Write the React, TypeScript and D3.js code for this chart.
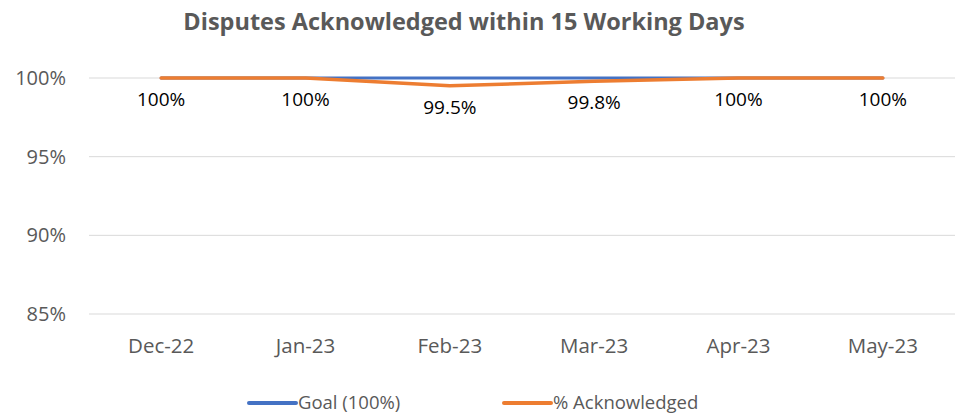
import { useEffect, useRef } from 'react'
import * as d3 from 'd3'

const months = ['Dec-22', 'Jan-23', 'Feb-23', 'Mar-23', 'Apr-23', 'May-23']
const goal = [100, 100, 100, 100, 100, 100]
const acknowledged = [100, 100, 99.5, 99.8, 100, 100]
const ackLabels = ['100%', '100%', '99.5%', '99.8%', '100%', '100%']
const yTicks = [85, 90, 95, 100]

const W = 964
const H = 416
const FONT = '"Open Sans", sans-serif'

export default function App() {
  const svgRef = useRef<SVGSVGElement | null>(null)

  useEffect(() => {
    const margin = { top: 78, right: 9, bottom: 102, left: 89 }
    const innerWidth = W - margin.left - margin.right
    const innerHeight = H - margin.top - margin.bottom

    const svg = d3.select(svgRef.current)
    svg.selectAll('*').remove()
    svg.attr('viewBox', `0 0 ${W} ${H}`)

    // title
    svg
      .append('text')
      .attr('x', 464)
      .attr('y', 30)
      .attr('text-anchor', 'middle')
      .attr('font-family', FONT)
      .attr('font-size', 23.5)
      .attr('font-weight', 700)
      .attr('fill', '#595959')
      .text('Disputes Acknowledged within 15 Working Days')

    const g = svg.append('g').attr('transform', `translate(${margin.left},${margin.top})`)

    const x = d3.scaleBand().domain(months).range([0, innerWidth])
    const y = d3.scaleLinear().domain([85, 100]).range([innerHeight, 0])
    const cx = (m: string) => (x(m) as number) + x.bandwidth() / 2

    // grid
    g.selectAll('.grid')
      .data(yTicks)
      .join('line')
      .attr('class', 'grid')
      .attr('x1', 0)
      .attr('x2', innerWidth)
      .attr('y1', (d) => y(d))
      .attr('y2', (d) => y(d))
      .attr('stroke', '#d9d9d9')
      .attr('stroke-width', 1)

    // y labels
    g.selectAll('.ylab')
      .data(yTicks)
      .join('text')
      .attr('class', 'ylab')
      .attr('x', -23)
      .attr('y', (d) => y(d))
      .attr('dy', '0.35em')
      .attr('text-anchor', 'end')
      .attr('font-family', FONT)
      .attr('font-size', 20)
      .attr('fill', '#595959')
      .text((d) => `${d}%`)

    // x labels
    g.selectAll('.xlab')
      .data(months)
      .join('text')
      .attr('class', 'xlab')
      .attr('x', (d) => cx(d))
      .attr('y', innerHeight + 39)
      .attr('text-anchor', 'middle')
      .attr('font-family', FONT)
      .attr('font-size', 20.5)
      .attr('fill', '#595959')
      .text((d) => d)

    const line = d3
      .line<number>()
      .x((_, i) => cx(months[i]))
      .y((d) => y(d))

    g.append('path')
      .datum(goal)
      .attr('fill', 'none')
      .attr('stroke', '#4472C4')
      .attr('stroke-width', 3)
      .attr('stroke-linecap', 'round')
      .attr('d', line)

    g.append('path')
      .datum(acknowledged)
      .attr('fill', 'none')
      .attr('stroke', '#ED7D31')
      .attr('stroke-width', 3.5)
      .attr('stroke-linecap', 'round')
      .attr('stroke-linejoin', 'round')
      .attr('d', line)

    // data labels
    g.selectAll('.dlab')
      .data(acknowledged)
      .join('text')
      .attr('class', 'dlab')
      .attr('x', (_, i) => cx(months[i]))
      .attr('y', (d) => y(d) + 28)
      .attr('text-anchor', 'middle')
      .attr('font-family', FONT)
      .attr('font-size', 19)
      .attr('fill', '#000')
      .text((_, i) => ackLabels[i])

    // legend
    const legend = [
      { name: 'Goal (100%)', color: '#4472C4', x: 249 },
      { name: '% Acknowledged', color: '#ED7D31', x: 504 },
    ]
    const lg = svg.selectAll('.leg').data(legend).join('g').attr('class', 'leg')
    lg.append('line')
      .attr('x1', (d) => d.x)
      .attr('x2', (d) => d.x + 47)
      .attr('y1', 403)
      .attr('y2', 403)
      .attr('stroke', (d) => d.color)
      .attr('stroke-width', 4)
      .attr('stroke-linecap', 'round')
    lg.append('text')
      .attr('x', (d) => d.x + 49)
      .attr('y', 403)
      .attr('dy', '0.35em')
      .attr('font-family', FONT)
      .attr('font-size', 18.5)
      .attr('fill', '#595959')
      .text((d) => d.name)
  }, [])

  return (
    <div style={{ position: 'fixed', left: 0, top: 0, width: W, height: H, background: '#fff' }}>
      <svg ref={svgRef} width={W} height={H} />
    </div>
  )
}
